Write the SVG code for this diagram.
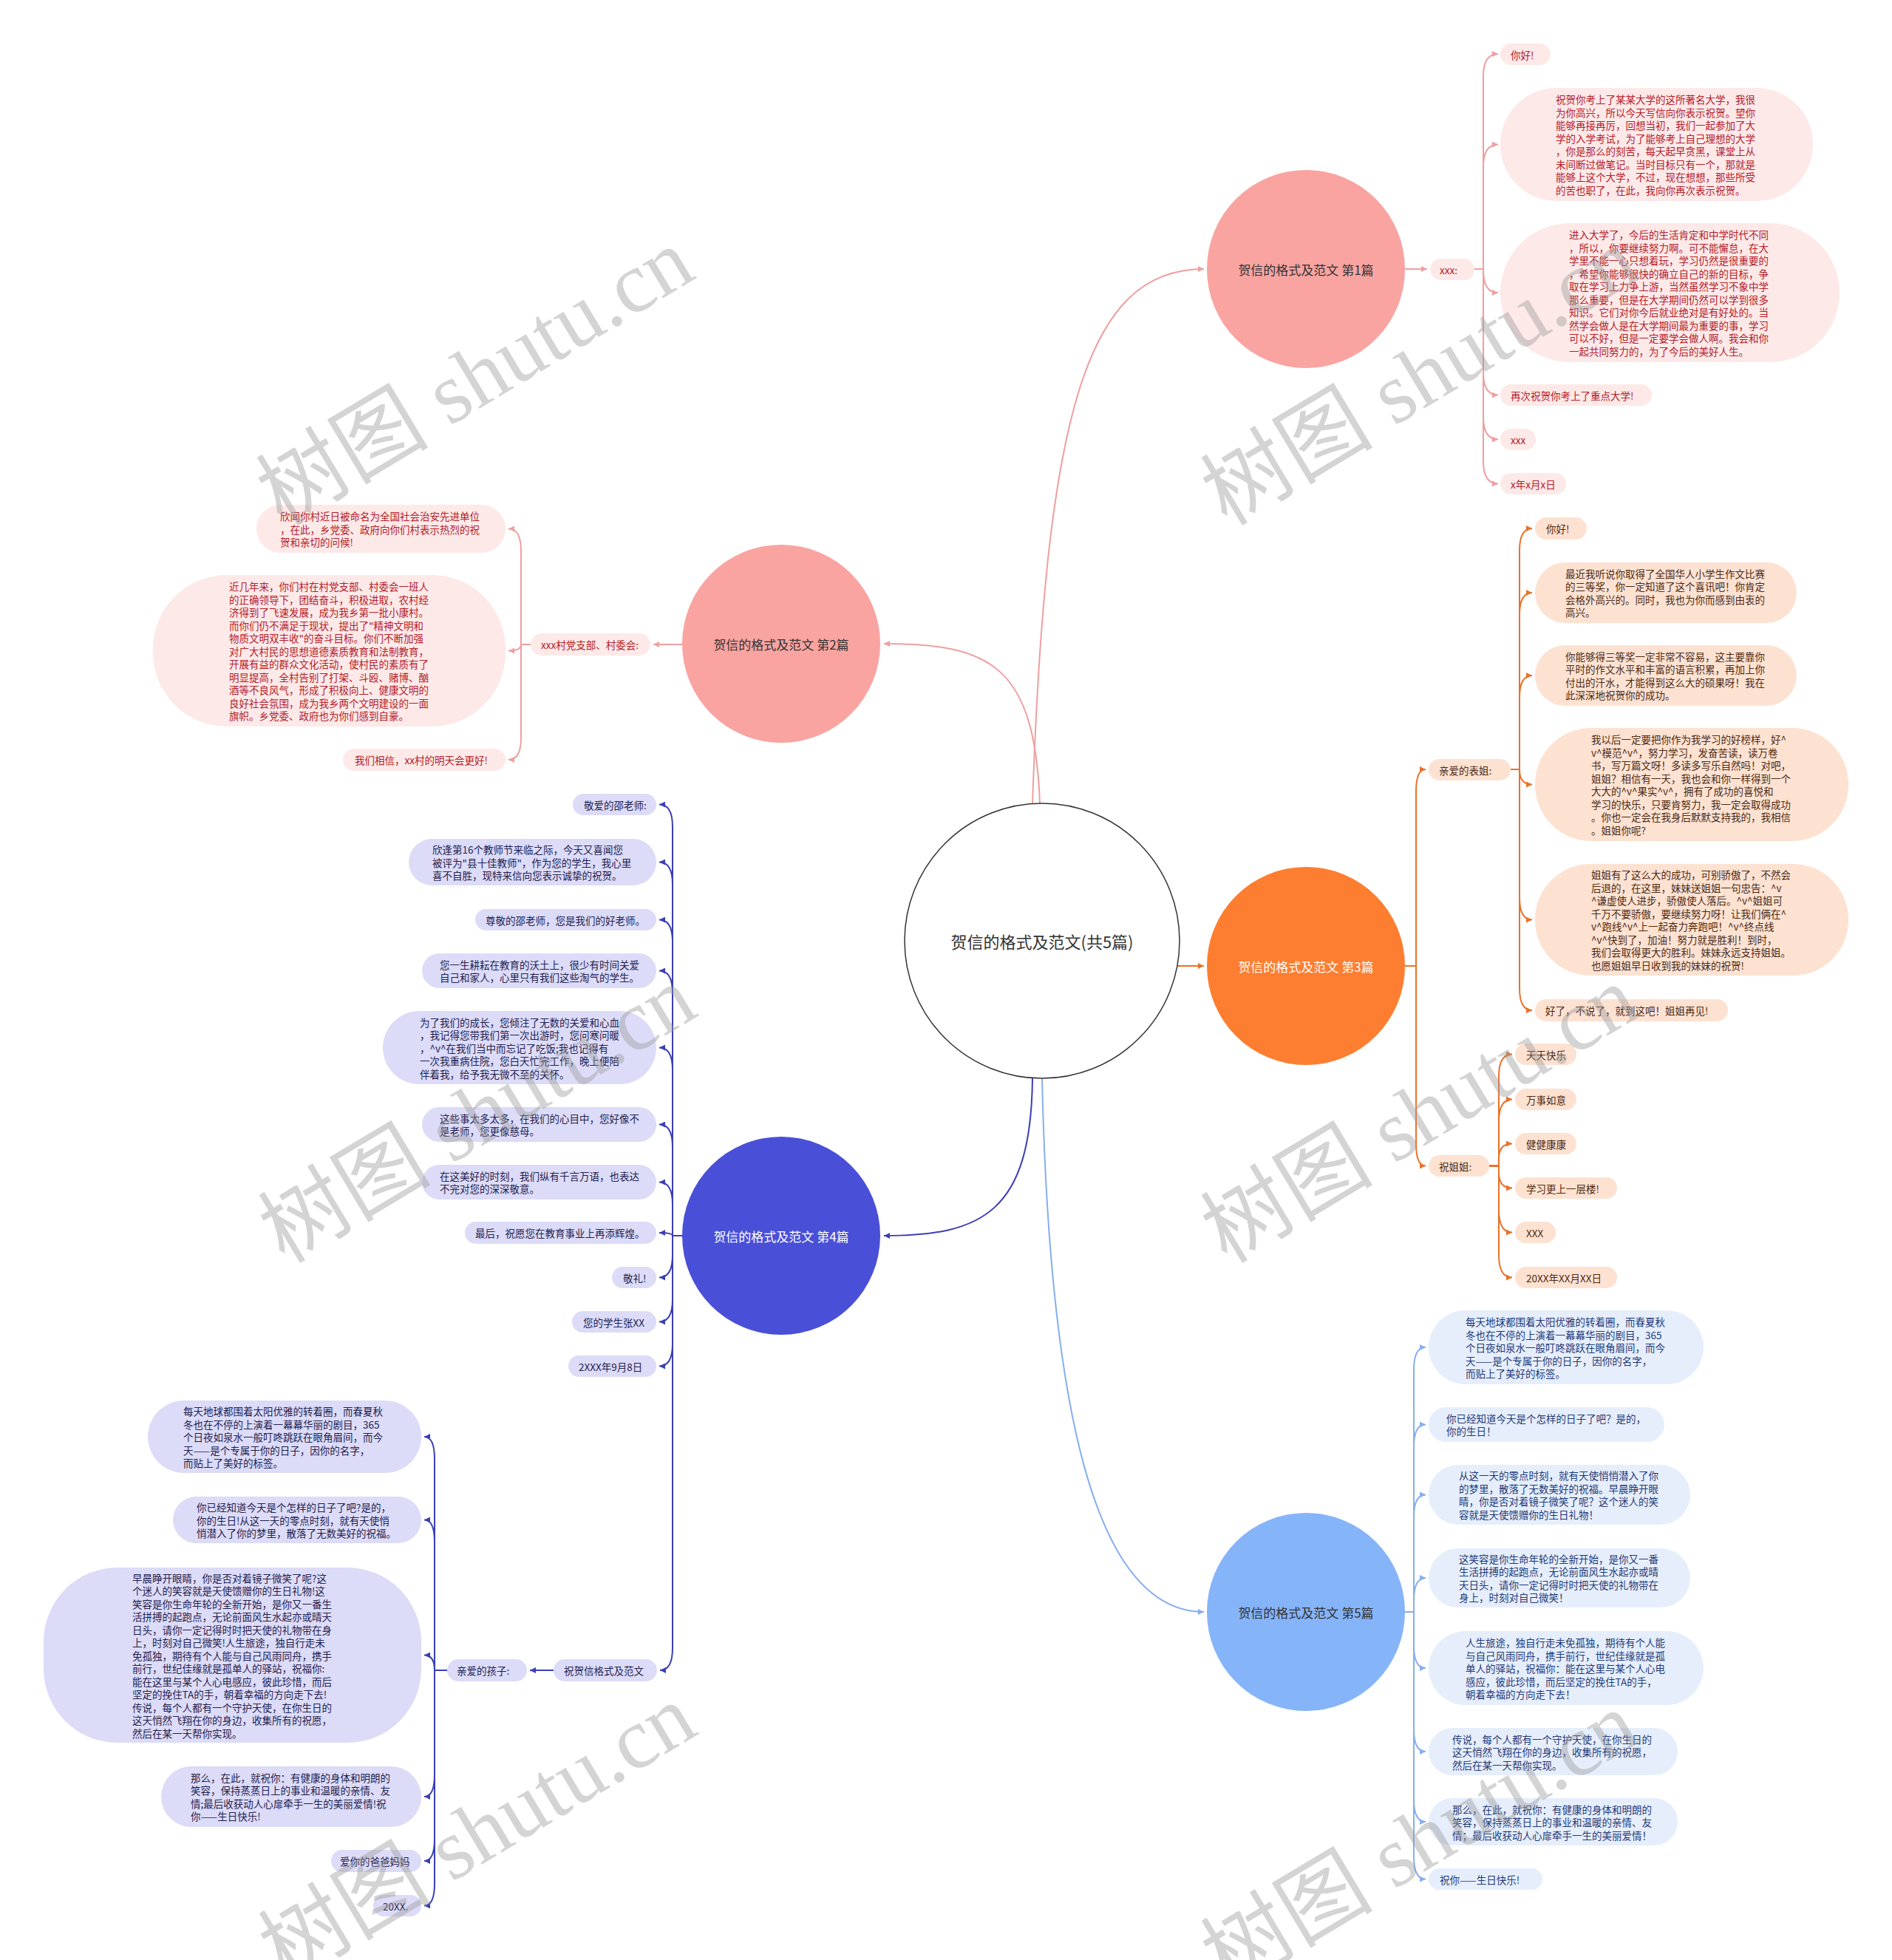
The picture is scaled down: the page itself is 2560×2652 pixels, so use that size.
<svg xmlns="http://www.w3.org/2000/svg" width="2560" height="2652" viewBox="0 0 2560 2652">
<defs>
<style>
text{font-family:"Noto Sans CJK SC","Noto Sans",sans-serif;dominant-baseline:central}
.t{font-size:13.5px}
.bt{font-size:17px;text-anchor:middle}
.ct{font-size:22px;text-anchor:middle;fill:#333}
.pk rect{fill:#fde9e8}.pk text{fill:#b3202a}
.or rect{fill:#fde2d2}.or text{fill:#4d2a12}
.nv rect{fill:#dcdcf8}.nv text{fill:#1f2150}
.lb rect{fill:#e6eefc}.lb text{fill:#1e3a78}
.c{fill:none;stroke-width:2}
.cp{stroke:#ee9f9f}.co{stroke:#e8722a}.cn{stroke:#3b3fb5}.cl{stroke:#86aef0}
.wm{font-family:"Liberation Serif","Noto Sans CJK SC",serif;font-size:117px;fill:#999;fill-opacity:0.42;text-anchor:middle}
</style>
<marker id="ap" markerWidth="8" markerHeight="8" refX="8" refY="4" orient="auto" markerUnits="userSpaceOnUse"><path d="M0,0 L8,4 L0,8 z" fill="#ee9f9f"/></marker>
<marker id="ao" markerWidth="8" markerHeight="8" refX="8" refY="4" orient="auto" markerUnits="userSpaceOnUse"><path d="M0,0 L8,4 L0,8 z" fill="#e8722a"/></marker>
<marker id="an" markerWidth="8" markerHeight="8" refX="8" refY="4" orient="auto" markerUnits="userSpaceOnUse"><path d="M0,0 L8,4 L0,8 z" fill="#3b3fb5"/></marker>
<marker id="al" markerWidth="8" markerHeight="8" refX="8" refY="4" orient="auto" markerUnits="userSpaceOnUse"><path d="M0,0 L8,4 L0,8 z" fill="#86aef0"/></marker>
</defs>
<rect width="2560" height="2652" fill="#fff"/>

<g id="connectors">
<g class="c cp" marker-end="url(#ap)">
<path d="M1397,1087 C1415,560 1470,364 1629,364"/>
<path d="M1407,1087 C1400,900 1340,871 1196,871"/>
<path d="M1901,364 L1931,364"/>
<path d="M1995,364 L2007,364 L2007,103 Q2007,73 2027,73"/>
<path d="M1995,364 L2007,364 L2007,225.5 Q2007,195.5 2027,195.5"/>
<path d="M1995,364 L2007,364 L2007,366 Q2007,396 2027,396"/>
<path d="M1995,364 L2007,364 L2007,504.5 Q2007,534.5 2027,534.5"/>
<path d="M1995,364 L2007,364 L2007,564.5 Q2007,594.5 2027,594.5"/>
<path d="M1995,364 L2007,364 L2007,624.5 Q2007,654.5 2027,654.5"/>
<path d="M923,872 L884,872"/>
<path d="M718,872 L705,872 L705,745.5 Q705,715.5 688,715.5"/>
<path d="M718,872 L705,872 Q705,880.5 688,880.5"/>
<path d="M718,872 L705,872 L705,998 Q705,1028 688,1028"/>
</g>
<g class="c co" marker-end="url(#ao)">
<path d="M1593,1307 L1629,1307"/>
<path d="M1901,1307 L1916,1307 L1916,1071 Q1916,1041 1929,1041"/>
<path d="M1901,1307 L1916,1307 L1916,1547.5 Q1916,1577.5 1929,1577.5"/>
<path d="M2044,1041 L2056,1041 L2056,745 Q2056,715 2073,715"/>
<path d="M2044,1041 L2056,1041 L2056,832 Q2056,802 2073,802"/>
<path d="M2044,1041 L2056,1041 L2056,944 Q2056,914 2073,914"/>
<path d="M2044,1041 L2056,1041 L2056,1041 Q2056,1061.5 2073,1061.5"/>
<path d="M2044,1041 L2056,1041 L2056,1214.5 Q2056,1244.5 2073,1244.5"/>
<path d="M2044,1041 L2056,1041 L2056,1337 Q2056,1367 2073,1367"/>
<path d="M2015,1577.5 L2028,1577.5 L2028,1456.5 Q2028,1426.5 2046,1426.5"/>
<path d="M2015,1577.5 L2028,1577.5 L2028,1517.5 Q2028,1487.5 2046,1487.5"/>
<path d="M2015,1577.5 L2028,1577.5 L2028,1567.5 Q2028,1547.5 2046,1547.5"/>
<path d="M2015,1577.5 L2028,1577.5 L2028,1587.5 Q2028,1607.5 2046,1607.5"/>
<path d="M2015,1577.5 L2028,1577.5 L2028,1637.5 Q2028,1667.5 2046,1667.5"/>
<path d="M2015,1577.5 L2028,1577.5 L2028,1698.5 Q2028,1728.5 2046,1728.5"/>
</g>
<g class="c cn" marker-end="url(#an)">
<path d="M1397,1459 C1395,1640 1330,1672 1196,1672"/>
<path d="M923,1672 L910,1672 L910,1118.5 Q910,1088.5 892,1088.5"/>
<path d="M923,1672 L910,1672 L910,1196.5 Q910,1166.5 892,1166.5"/>
<path d="M923,1672 L910,1672 L910,1274.5 Q910,1244.5 892,1244.5"/>
<path d="M923,1672 L910,1672 L910,1343.5 Q910,1313.5 892,1313.5"/>
<path d="M923,1672 L910,1672 L910,1447.5 Q910,1417.5 892,1417.5"/>
<path d="M923,1672 L910,1672 L910,1551.5 Q910,1521.5 892,1521.5"/>
<path d="M923,1672 L910,1672 L910,1629.5 Q910,1599.5 892,1599.5"/>
<path d="M923,1672 L910,1672 Q910,1668 892,1668"/>
<path d="M923,1672 L910,1672 L910,1698.5 Q910,1728.5 892,1728.5"/>
<path d="M923,1672 L910,1672 L910,1758.5 Q910,1788.5 892,1788.5"/>
<path d="M923,1672 L910,1672 L910,1818.5 Q910,1848.5 892,1848.5"/>
<path d="M923,1672 L910,1672 L910,2230 Q910,2260 893,2260"/>
<path d="M749,2260 L717,2260"/>
<path d="M605,2260 L588,2260 L588,1974 Q588,1944 574,1944"/>
<path d="M605,2260 L588,2260 L588,2086.5 Q588,2056.5 574,2056.5"/>
<path d="M605,2260 L588,2260 L588,2260 Q588,2239.5 574,2239.5"/>
<path d="M605,2260 L588,2260 L588,2401 Q588,2431 574,2431"/>
<path d="M605,2260 L588,2260 L588,2488 Q588,2518 574,2518"/>
<path d="M605,2260 L588,2260 L588,2548.5 Q588,2578.5 574,2578.5"/>
</g>
<g class="c cl" marker-end="url(#al)">
<path d="M1410,1459 C1420,1900 1480,2181 1629,2181"/>
<path d="M1901,2181 L1913,2181 L1913,1853 Q1913,1823 1929,1823"/>
<path d="M1901,2181 L1913,2181 L1913,1957.5 Q1913,1927.5 1929,1927.5"/>
<path d="M1901,2181 L1913,2181 L1913,2052.5 Q1913,2022.5 1929,2022.5"/>
<path d="M1901,2181 L1913,2181 L1913,2165 Q1913,2135 1929,2135"/>
<path d="M1901,2181 L1913,2181 L1913,2227 Q1913,2257 1929,2257"/>
<path d="M1901,2181 L1913,2181 L1913,2340 Q1913,2370 1929,2370"/>
<path d="M1901,2181 L1913,2181 L1913,2435 Q1913,2465 1929,2465"/>
<path d="M1901,2181 L1913,2181 L1913,2512.5 Q1913,2542.5 1929,2542.5"/>
</g>
</g>

<g id="node-center"><circle cx="1410" cy="1273" r="186" fill="#fff" stroke="#333" stroke-width="1.5"/><text class="ct" x="1410" y="1273">贺信的格式及范文(共5篇)</text></g>
<g id="node-b1"><circle cx="1767" cy="364" r="134" fill="#f9a4a1"/><text class="bt" x="1767" y="364" fill="#333">贺信的格式及范文 第1篇</text></g>
<g id="node-b2"><circle cx="1057" cy="871" r="134" fill="#f9a4a1"/><text class="bt" x="1057" y="871" fill="#333">贺信的格式及范文 第2篇</text></g>
<g id="node-b3"><circle cx="1767" cy="1307" r="134" fill="#fd7e30"/><text class="bt" x="1767" y="1307" fill="#fff">贺信的格式及范文 第3篇</text></g>
<g id="node-b4"><circle cx="1057" cy="1672" r="134" fill="#4a4fd7"/><text class="bt" x="1057" y="1672" fill="#fff">贺信的格式及范文 第4篇</text></g>
<g id="node-b5"><circle cx="1767" cy="2181" r="134" fill="#86b4f9"/><text class="bt" x="1767" y="2181" fill="#333">贺信的格式及范文 第5篇</text></g>

<g class="pk">
<g id="b1-xxx"><rect x="1935" y="350" width="60" height="29" rx="14.5"/><text class="t" x="1948" y="364.5">xxx:</text></g>
<g id="b1-l1"><rect x="2030" y="59" width="68" height="29" rx="14.5"/><text class="t" x="2044" y="73.5">你好!</text></g>
<g id="b1-l2"><rect x="2030" y="119" width="423" height="153" rx="76"/><text class="t" x="2105" y="134.25"><tspan>祝贺你考上了某某大学的这所著名大学，我很</tspan><tspan x="2105" dy="17.5">为你高兴，所以今天写信向你表示祝贺。望你</tspan><tspan x="2105" dy="17.5">能够再接再厉，回想当初，我们一起参加了大</tspan><tspan x="2105" dy="17.5">学的入学考试，为了能够考上自己理想的大学</tspan><tspan x="2105" dy="17.5">，你是那么的刻苦，每天起早贪黑，课堂上从</tspan><tspan x="2105" dy="17.5">未间断过做笔记。当时目标只有一个，那就是</tspan><tspan x="2105" dy="17.5">能够上这个大学，不过，现在想想，那些所受</tspan><tspan x="2105" dy="17.5">的苦也职了，在此，我向你再次表示祝贺。</tspan></text></g>
<g id="b1-l3"><rect x="2030" y="302" width="459" height="188" rx="94"/><text class="t" x="2123" y="317.25"><tspan>进入大学了，今后的生活肯定和中学时代不同</tspan><tspan x="2123" dy="17.5">，所以，你要继续努力啊。可不能懈怠，在大</tspan><tspan x="2123" dy="17.5">学里不能一心只想着玩，学习仍然是很重要的</tspan><tspan x="2123" dy="17.5">，希望你能够很快的确立自己的新的目标，争</tspan><tspan x="2123" dy="17.5">取在学习上力争上游，当然虽然学习不象中学</tspan><tspan x="2123" dy="17.5">那么重要，但是在大学期间仍然可以学到很多</tspan><tspan x="2123" dy="17.5">知识。它们对你今后就业绝对是有好处的。当</tspan><tspan x="2123" dy="17.5">然学会做人是在大学期间最为重要的事，学习</tspan><tspan x="2123" dy="17.5">可以不好，但是一定要学会做人啊。我会和你</tspan><tspan x="2123" dy="17.5">一起共同努力的，为了今后的美好人生。</tspan></text></g>
<g id="b1-l4"><rect x="2030" y="520" width="205" height="29" rx="14.5"/><text class="t" x="2044" y="534.5">再次祝贺你考上了重点大学!</text></g>
<g id="b1-l5"><rect x="2030" y="580" width="48" height="29" rx="14.5"/><text class="t" x="2044" y="594.5">xxx</text></g>
<g id="b1-l6"><rect x="2030" y="640" width="89" height="29" rx="14.5"/><text class="t" x="2044" y="654.5">x年x月x日</text></g>

<g id="b2-head"><rect x="718" y="857" width="162" height="30" rx="15"/><text class="t" x="732" y="872">xxx村党支部、村委会:</text></g>
<g id="b2-l1"><rect x="347" y="683" width="337" height="65" rx="32.5"/><text class="t" x="379" y="698"><tspan>欣闻你村近日被命名为全国社会治安先进单位</tspan><tspan x="379" dy="17.5">，在此，乡党委、政府向你们村表示热烈的祝</tspan><tspan x="379" dy="17.5">贺和亲切的问候!</tspan></text></g>
<g id="b2-l2"><rect x="207" y="778" width="477" height="205" rx="100"/><text class="t" x="310" y="793"><tspan>近几年来，你们村在村党支部、村委会一班人</tspan><tspan x="310" dy="17.5">的正确领导下，团结奋斗，积极进取，农村经</tspan><tspan x="310" dy="17.5">济得到了飞速发展，成为我乡第一批小康村。</tspan><tspan x="310" dy="17.5">而你们仍不满足于现状，提出了"精神文明和</tspan><tspan x="310" dy="17.5">物质文明双丰收"的奋斗目标。你们不断加强</tspan><tspan x="310" dy="17.5">对广大村民的思想道德素质教育和法制教育，</tspan><tspan x="310" dy="17.5">开展有益的群众文化活动，使村民的素质有了</tspan><tspan x="310" dy="17.5">明显提高，全村告别了打架、斗殴、赌博、酗</tspan><tspan x="310" dy="17.5">酒等不良风气，形成了积极向上、健康文明的</tspan><tspan x="310" dy="17.5">良好社会氛围，成为我乡两个文明建设的一面</tspan><tspan x="310" dy="17.5">旗帜。乡党委、政府也为你们感到自豪。</tspan></text></g>
<g id="b2-l3"><rect x="464" y="1013" width="220" height="30" rx="15"/><text class="t" x="480" y="1028">我们相信，xx村的明天会更好!</text></g>
</g>

<g class="or">
<g id="b3-head1"><rect x="1933" y="1027" width="111" height="29" rx="14.5"/><text class="t" x="1947" y="1041.5">亲爱的表姐:</text></g>
<g id="b3-l1"><rect x="2077" y="700" width="70" height="30" rx="15"/><text class="t" x="2092" y="715">你好!</text></g>
<g id="b3-l2"><rect x="2077" y="761" width="354" height="82" rx="41"/><text class="t" x="2118" y="775.75"><tspan>最近我听说你取得了全国华人小学生作文比赛</tspan><tspan x="2118" dy="17.5">的三等奖，你一定知道了这个喜讯吧！你肯定</tspan><tspan x="2118" dy="17.5">会格外高兴的。同时，我也为你而感到由衷的</tspan><tspan x="2118" dy="17.5">高兴。</tspan></text></g>
<g id="b3-l3"><rect x="2077" y="873" width="354" height="82" rx="41"/><text class="t" x="2118" y="887.75"><tspan>你能够得三等奖一定非常不容易，这主要靠你</tspan><tspan x="2118" dy="17.5">平时的作文水平和丰富的语言积累，再加上你</tspan><tspan x="2118" dy="17.5">付出的汗水，才能得到这么大的硕果呀！我在</tspan><tspan x="2118" dy="17.5">此深深地祝贺你的成功。</tspan></text></g>
<g id="b3-l4"><rect x="2077" y="985" width="424" height="153" rx="76"/><text class="t" x="2153" y="1000.25"><tspan>我以后一定要把你作为我学习的好榜样，好^</tspan><tspan x="2153" dy="17.5">v^模范^v^，努力学习，发奋苦读，读万卷</tspan><tspan x="2153" dy="17.5">书，写万篇文呀！多读多写乐自然吗！对吧，</tspan><tspan x="2153" dy="17.5">姐姐？相信有一天，我也会和你一样得到一个</tspan><tspan x="2153" dy="17.5">大大的^v^果实^v^，拥有了成功的喜悦和</tspan><tspan x="2153" dy="17.5">学习的快乐，只要肯努力，我一定会取得成功</tspan><tspan x="2153" dy="17.5">。你也一定会在我身后默默支持我的，我相信</tspan><tspan x="2153" dy="17.5">。姐姐你呢?</tspan></text></g>
<g id="b3-l5"><rect x="2077" y="1169" width="424" height="151" rx="75"/><text class="t" x="2153" y="1183.25"><tspan>姐姐有了这么大的成功，可别骄傲了，不然会</tspan><tspan x="2153" dy="17.5">后退的，在这里，妹妹送姐姐一句忠告：^v</tspan><tspan x="2153" dy="17.5">^谦虚使人进步，骄傲使人落后。^v^姐姐可</tspan><tspan x="2153" dy="17.5">千万不要骄傲，要继续努力呀！让我们俩在^</tspan><tspan x="2153" dy="17.5">v^跑线^v^上一起奋力奔跑吧！^v^终点线</tspan><tspan x="2153" dy="17.5">^v^快到了，加油！努力就是胜利！到时，</tspan><tspan x="2153" dy="17.5">我们会取得更大的胜利。妹妹永远支持姐姐。</tspan><tspan x="2153" dy="17.5">也愿姐姐早日收到我的妹妹的祝贺!</tspan></text></g>
<g id="b3-l6"><rect x="2077" y="1352" width="261" height="30" rx="15"/><text class="t" x="2091" y="1367">好了，不说了，就到这吧！姐姐再见!</text></g>
<g id="b3-head2"><rect x="1933" y="1563" width="82" height="29" rx="14.5"/><text class="t" x="1947" y="1577.5">祝姐姐:</text></g>
<g id="b3-m1"><rect x="2050" y="1412" width="83" height="29" rx="14.5"/><text class="t" x="2065" y="1426.5">天天快乐</text></g>
<g id="b3-m2"><rect x="2050" y="1473" width="83" height="29" rx="14.5"/><text class="t" x="2065" y="1487.5">万事如意</text></g>
<g id="b3-m3"><rect x="2050" y="1533" width="83" height="29" rx="14.5"/><text class="t" x="2065" y="1547.5">健健康康</text></g>
<g id="b3-m4"><rect x="2050" y="1593" width="138" height="29" rx="14.5"/><text class="t" x="2065" y="1607.5">学习更上一层楼!</text></g>
<g id="b3-m5"><rect x="2050" y="1653" width="55" height="29" rx="14.5"/><text class="t" x="2065" y="1667.5">XXX</text></g>
<g id="b3-m6"><rect x="2050" y="1714" width="138" height="29" rx="14.5"/><text class="t" x="2065" y="1728.5">20XX年XX月XX日</text></g>
</g>

<g class="nv">
<g id="b4-l1"><rect x="775" y="1074" width="113" height="29" rx="14.5"/><text class="t" x="790" y="1088.5">敬爱的邵老师:</text></g>
<g id="b4-l2"><rect x="553" y="1135" width="335" height="63" rx="31.5"/><text class="t" x="585" y="1149"><tspan>欣逢第16个教师节来临之际，今天又喜闻您</tspan><tspan x="585" dy="17.5">被评为"县十佳教师"，作为您的学生，我心里</tspan><tspan x="585" dy="17.5">喜不自胜，现特来信向您表示诚挚的祝贺。</tspan></text></g>
<g id="b4-l3"><rect x="643" y="1230" width="245" height="29" rx="14.5"/><text class="t" x="657" y="1244.5">尊敬的邵老师，您是我们的好老师。</text></g>
<g id="b4-l4"><rect x="571" y="1290" width="317" height="47" rx="23.5"/><text class="t" x="595" y="1304.75"><tspan>您一生耕耘在教育的沃土上，很少有时间关爱</tspan><tspan x="595" dy="17.5">自己和家人，心里只有我们这些淘气的学生。</tspan></text></g>
<g id="b4-l5"><rect x="518" y="1368" width="370" height="99" rx="49.5"/><text class="t" x="568" y="1382.5"><tspan>为了我们的成长，您倾注了无数的关爱和心血</tspan><tspan x="568" dy="17.5">，我记得您带我们第一次出游时，您问寒问暖</tspan><tspan x="568" dy="17.5">，^v^在我们当中而忘记了吃饭;我也记得有</tspan><tspan x="568" dy="17.5">一次我重病住院，您白天忙完工作，晚上便陪</tspan><tspan x="568" dy="17.5">伴着我，给予我无微不至的关怀。</tspan></text></g>
<g id="b4-l6"><rect x="571" y="1498" width="317" height="47" rx="23.5"/><text class="t" x="595" y="1512.75"><tspan>这些事太多太多，在我们的心目中，您好像不</tspan><tspan x="595" dy="17.5">是老师，您更像慈母。</tspan></text></g>
<g id="b4-l7"><rect x="571" y="1576" width="317" height="47" rx="23.5"/><text class="t" x="595" y="1590.75"><tspan>在这美好的时刻，我们纵有千言万语，也表达</tspan><tspan x="595" dy="17.5">不完对您的深深敬意。</tspan></text></g>
<g id="b4-l8"><rect x="629" y="1653" width="259" height="30" rx="15"/><text class="t" x="643" y="1668">最后，祝愿您在教育事业上再添辉煌。</text></g>
<g id="b4-l9"><rect x="828" y="1714" width="60" height="29" rx="14.5"/><text class="t" x="843" y="1728.5">敬礼!</text></g>
<g id="b4-l10"><rect x="774" y="1774" width="114" height="29" rx="14.5"/><text class="t" x="789" y="1788.5">您的学生张XX</text></g>
<g id="b4-l11"><rect x="769" y="1834" width="119" height="29" rx="14.5"/><text class="t" x="783" y="1848.5">2XXX年9月8日</text></g>
<g id="b4-l12"><rect x="749" y="2245" width="140" height="30" rx="15"/><text class="t" x="763" y="2260">祝贺信格式及范文</text></g>
<g id="b4-head2"><rect x="605" y="2245" width="108" height="30" rx="15"/><text class="t" x="618" y="2260">亲爱的孩子:</text></g>
<g id="b4-k1"><rect x="200" y="1895" width="370" height="98" rx="49"/><text class="t" x="248" y="1909"><tspan>每天地球都围着太阳优雅的转着圈，而春夏秋</tspan><tspan x="248" dy="17.5">冬也在不停的上演着一幕幕华丽的剧目，365</tspan><tspan x="248" dy="17.5">个日夜如泉水一般叮咚跳跃在眼角眉间，而今</tspan><tspan x="248" dy="17.5">天——是个专属于你的日子，因你的名字，</tspan><tspan x="248" dy="17.5">而贴上了美好的标签。</tspan></text></g>
<g id="b4-k2"><rect x="234" y="2025" width="336" height="63" rx="31.5"/><text class="t" x="266" y="2039"><tspan>你已经知道今天是个怎样的日子了吧?是的，</tspan><tspan x="266" dy="17.5">你的生日!从这一天的零点时刻，就有天使悄</tspan><tspan x="266" dy="17.5">悄潜入了你的梦里，散落了无数美好的祝福。</tspan></text></g>
<g id="b4-k3"><rect x="59" y="2121" width="511" height="237" rx="100"/><text class="t" x="179" y="2134.5"><tspan>早晨睁开眼睛，你是否对着镜子微笑了呢?这</tspan><tspan x="179" dy="17.5">个迷人的笑容就是天使馈赠你的生日礼物!这</tspan><tspan x="179" dy="17.5">笑容是你生命年轮的全新开始，是你又一番生</tspan><tspan x="179" dy="17.5">活拼搏的起跑点，无论前面风生水起亦或晴天</tspan><tspan x="179" dy="17.5">日头，请你一定记得时时把天使的礼物带在身</tspan><tspan x="179" dy="17.5">上，时刻对自己微笑!人生旅途，独自行走未</tspan><tspan x="179" dy="17.5">免孤独，期待有个人能与自己风雨同舟，携手</tspan><tspan x="179" dy="17.5">前行，世纪佳缘就是孤单人的驿站，祝福你:</tspan><tspan x="179" dy="17.5">能在这里与某个人心电感应，彼此珍惜，而后</tspan><tspan x="179" dy="17.5">坚定的挽住TA的手，朝着幸福的方向走下去!</tspan><tspan x="179" dy="17.5">传说，每个人都有一个守护天使，在你生日的</tspan><tspan x="179" dy="17.5">这天悄然飞翔在你的身边，收集所有的祝愿，</tspan><tspan x="179" dy="17.5">然后在某一天帮你实现。</tspan></text></g>
<g id="b4-k4"><rect x="218" y="2390" width="352" height="82" rx="41"/><text class="t" x="258" y="2404.75"><tspan>那么，在此，就祝你：有健康的身体和明朗的</tspan><tspan x="258" dy="17.5">笑容，保持蒸蒸日上的事业和温暖的亲情、友</tspan><tspan x="258" dy="17.5">情;最后收获动人心扉牵手一生的美丽爱情!祝</tspan><tspan x="258" dy="17.5">你——生日快乐!</tspan></text></g>
<g id="b4-k5"><rect x="448" y="2503" width="122" height="30" rx="15"/><text class="t" x="460" y="2518">爱你的爸爸妈妈</text></g>
<g id="b4-k6"><rect x="505" y="2564" width="65" height="29" rx="14.5"/><text class="t" x="518" y="2578.5">20XX.</text></g>
</g>

<g class="lb">
<g id="b5-l1"><rect x="1933" y="1773" width="372" height="100" rx="50"/><text class="t" x="1983" y="1788"><tspan>每天地球都围着太阳优雅的转着圈，而春夏秋</tspan><tspan x="1983" dy="17.5">冬也在不停的上演着一幕幕华丽的剧目，365</tspan><tspan x="1983" dy="17.5">个日夜如泉水一般叮咚跳跃在眼角眉间，而今</tspan><tspan x="1983" dy="17.5">天——是个专属于你的日子，因你的名字，</tspan><tspan x="1983" dy="17.5">而贴上了美好的标签。</tspan></text></g>
<g id="b5-l2"><rect x="1933" y="1904" width="319" height="47" rx="23.5"/><text class="t" x="1957" y="1918.75"><tspan>你已经知道今天是个怎样的日子了吧？是的，</tspan><tspan x="1957" dy="17.5">你的生日！</tspan></text></g>
<g id="b5-l3"><rect x="1933" y="1982" width="354" height="81" rx="40.5"/><text class="t" x="1974" y="1996.25"><tspan>从这一天的零点时刻，就有天使悄悄潜入了你</tspan><tspan x="1974" dy="17.5">的梦里，散落了无数美好的祝福。早晨睁开眼</tspan><tspan x="1974" dy="17.5">睛，你是否对着镜子微笑了呢？这个迷人的笑</tspan><tspan x="1974" dy="17.5">容就是天使馈赠你的生日礼物！</tspan></text></g>
<g id="b5-l4"><rect x="1933" y="2095" width="354" height="80" rx="40"/><text class="t" x="1974" y="2108.75"><tspan>这笑容是你生命年轮的全新开始，是你又一番</tspan><tspan x="1974" dy="17.5">生活拼搏的起跑点，无论前面风生水起亦或晴</tspan><tspan x="1974" dy="17.5">天日头，请你一定记得时时把天使的礼物带在</tspan><tspan x="1974" dy="17.5">身上，时刻对自己微笑！</tspan></text></g>
<g id="b5-l5"><rect x="1933" y="2207" width="372" height="100" rx="50"/><text class="t" x="1983" y="2222"><tspan>人生旅途，独自行走未免孤独，期待有个人能</tspan><tspan x="1983" dy="17.5">与自己风雨同舟，携手前行，世纪佳缘就是孤</tspan><tspan x="1983" dy="17.5">单人的驿站，祝福你：能在这里与某个人心电</tspan><tspan x="1983" dy="17.5">感应，彼此珍惜，而后坚定的挽住TA的手，</tspan><tspan x="1983" dy="17.5">朝着幸福的方向走下去！</tspan></text></g>
<g id="b5-l6"><rect x="1933" y="2338" width="337" height="64" rx="32"/><text class="t" x="1965" y="2352.5"><tspan>传说，每个人都有一个守护天使，在你生日的</tspan><tspan x="1965" dy="17.5">这天悄然飞翔在你的身边，收集所有的祝愿，</tspan><tspan x="1965" dy="17.5">然后在某一天帮你实现。</tspan></text></g>
<g id="b5-l7"><rect x="1933" y="2433" width="337" height="64" rx="32"/><text class="t" x="1965" y="2447.5"><tspan>那么，在此，就祝你：有健康的身体和明朗的</tspan><tspan x="1965" dy="17.5">笑容，保持蒸蒸日上的事业和温暖的亲情、友</tspan><tspan x="1965" dy="17.5">情；最后收获动人心扉牵手一生的美丽爱情！</tspan></text></g>
<g id="b5-l8"><rect x="1933" y="2528" width="154" height="29" rx="14.5"/><text class="t" x="1948" y="2542.5">祝你——生日快乐!</text></g>
</g>

<g id="watermarks">
<text class="wm" transform="translate(643,510) rotate(-31)">树图 shutu.cn</text>
<text class="wm" transform="translate(1921,510) rotate(-31)">树图 shutu.cn</text>
<text class="wm" transform="translate(646,1508) rotate(-31)">树图 shutu.cn</text>
<text class="wm" transform="translate(1921,1508) rotate(-31)">树图 shutu.cn</text>
<text class="wm" transform="translate(646,2480) rotate(-31)">树图 shutu.cn</text>
<text class="wm" transform="translate(1921,2490) rotate(-31)">树图 shutu.cn</text>
</g>
</svg>
